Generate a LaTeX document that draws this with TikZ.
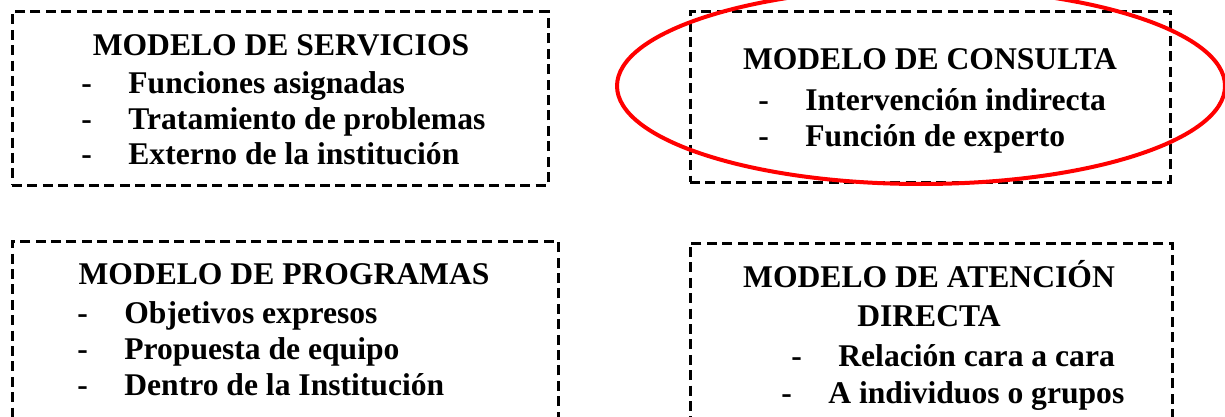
\documentclass[tikz,border=0pt]{standalone}
\usepackage{fontspec}
\setmainfont{Liberation Serif}
\usetikzlibrary{positioning, shapes.geometric}

\tikzset{
  caja/.style={draw, dashed, dash pattern=on 5pt off 2.7pt, line width=1.5pt, inner sep=0pt},
  titulo/.style={font=\bfseries\fontsize{15.8}{17}\selectfont, inner sep=0pt},
  item/.style={font=\bfseries\fontsize{15.8}{17}\selectfont, inner sep=0pt, text height=11.5pt, text depth=5.75pt},
  marca/.style={draw=red, line width=2pt, ellipse, inner sep=0pt},
}
\newcommand{\guion}{\makebox[23.5pt][l]{-}}

\begin{document}
\begin{tikzpicture}[x=0.5pt, y=-0.5pt]
  \useasboundingbox (0,0) rectangle (1225,417);

  % las cuatro cajas
  \node[caja, minimum width=268pt, minimum height=86.5pt] (servicios) at (280,98.5) {};
  \node[caja, minimum width=240pt, minimum height=85pt] (consulta) at (930,97) {};
  \node[caja, minimum width=273pt, minimum height=94.5pt] (programas) at (285,335.5) {};
  \node[caja, minimum width=241pt, minimum height=93.5pt] (atencion) at (931,336.5) {};

  % servicios
  \node[titulo, anchor=base] (tservicios) at (281,56) {MODELO DE SERVICIOS};
  \node[item, anchor=base west] (s1) at (81,94) {\guion Funciones asignadas};
  \node[item, below=0pt of s1.south west, anchor=north west] (s2) {\guion Tratamiento de problemas};
  \node[item, below=0pt of s2.south west, anchor=north west] (s3) {\guion Externo de la institución};

  % consulta
  \node[titulo, anchor=base] (tconsulta) at (930,70) {MODELO DE CONSULTA};
  \node[item, anchor=base west] (c1) at (758,111) {\guion Intervención indirecta};
  \node[item, below=0pt of c1.south west, anchor=north west] (c2) {\guion Función de experto};

  % programas
  \node[titulo, anchor=base] (tprogramas) at (284,284) {MODELO DE PROGRAMAS};
  \node[item, anchor=base west] (p1) at (77,323) {\guion Objetivos expresos};
  \node[item, below=0.5pt of p1.south west, anchor=north west] (p2) {\guion Propuesta de equipo};
  \node[item, below=0.5pt of p2.south west, anchor=north west] (p3) {\guion Dentro de la Institución};

  % atencion directa
  \node[titulo, anchor=base] (tatencion) at (929,287) {MODELO DE ATENCIÓN};
  \node[titulo, anchor=base] (tdirecta) at (929,326) {DIRECTA};
  \node[item, anchor=base west] (a1) at (791,366) {\guion Relación cara a cara};
  \node[item, anchor=base west] (a2) at (781,403) {\guion A individuos o grupos};

  % resaltado
  \node[marca, minimum width=304pt, minimum height=98pt] (circulo) at (921,86) {};
\end{tikzpicture}
\end{document}
